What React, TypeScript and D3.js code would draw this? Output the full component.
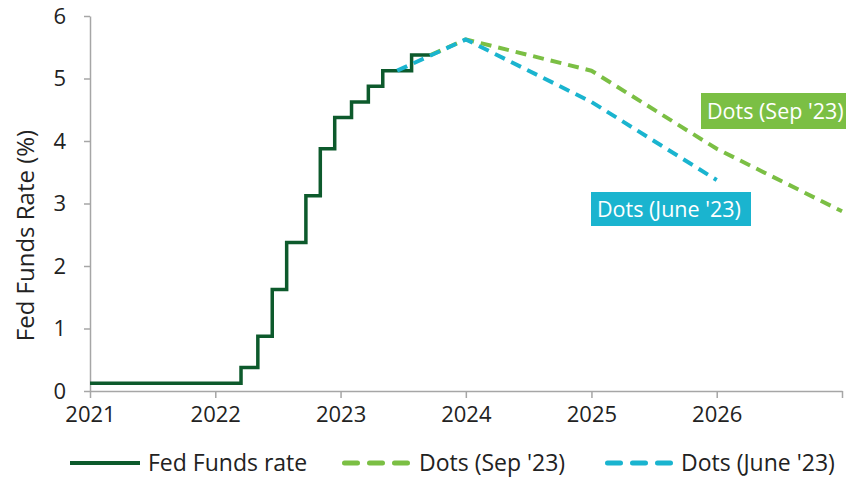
import React, { useEffect, useRef } from "react";
import * as d3 from "d3";

// Fed funds target range midpoint, step changes at FOMC decisions
const fedDates = [
  "2021-01-01", "2022-03-17", "2022-05-05", "2022-06-16", "2022-07-28",
  "2022-09-22", "2022-11-03", "2022-12-15", "2023-02-02", "2023-03-23",
  "2023-05-04", "2023-07-27", "2023-09-20",
];
const fedRates = [
  0.125, 0.375, 0.875, 1.625, 2.375, 3.125, 3.875, 4.375, 4.625, 4.875,
  5.125, 5.375, 5.375,
];

// SEP median dots (year-end values plotted at start of next year)
const sepDates = ["2023-09-20", "2024-01-01", "2025-01-01", "2026-01-01", "2027-01-01"];
const sepDots = [5.375, 5.625, 5.125, 3.875, 2.875];

const juneDates = ["2023-06-15", "2024-01-01", "2025-01-01", "2026-01-01"];
const juneDots = [5.125, 5.625, 4.625, 3.375];

const yearTicks = ["2021", "2022", "2023", "2024", "2025", "2026"];
const rateTicks = [0, 1, 2, 3, 4, 5, 6];

const W = 846;
const H = 479;
const FONT = "'Open Sans', sans-serif";
const DARK = "#0d5a2c";
const GREEN = "#7bbf44";
const CYAN = "#1ab4cf";
const AXIS = "#a6a6a6";

const App = () => {
  const svgRef = useRef<SVGSVGElement>(null);

  useEffect(() => {
    const svg = d3.select(svgRef.current);
    svg.selectAll("*").remove();

    const parse = d3.timeParse("%Y-%m-%d");
    const x = d3
      .scaleTime()
      .domain([parse("2021-01-01")!, parse("2027-01-01")!])
      .range([90, 842]);
    const y = d3.scaleLinear().domain([0, 6]).range([391, 16]);

    const toPts = (dates: string[], vals: number[]) =>
      dates.map((d, i) => ({ d: parse(d)!, v: vals[i] }));

    // axes
    svg
      .append("g")
      .attr("transform", `translate(0,${y(0)})`)
      .call(
        d3
          .axisBottom(x)
          .tickValues(yearTicks.map((t) => parse(`${t}-01-01`)!).concat([parse("2027-01-01")!]))
          .tickFormat((d) => {
            const yr = d3.timeFormat("%Y")(d as Date);
            return yearTicks.includes(yr) ? yr : "";
          })
          .tickSize(7)
          .tickSizeOuter(0)
          .tickPadding(8)
      )
      .call((g) => g.select(".domain").attr("stroke", AXIS).attr("stroke-width", 1.5))
      .call((g) => g.selectAll(".tick line").attr("stroke", AXIS).attr("stroke-width", 1.5))
      .call((g) =>
        g
          .selectAll(".tick text")
          .attr("fill", "#222")
          .style("font-family", FONT)
          .style("font-size", "22px")
      );

    svg
      .append("g")
      .attr("transform", `translate(${x.range()[0]},0)`)
      .call(d3.axisLeft(y).tickValues(rateTicks).tickFormat(d3.format("d")).tickSize(6).tickSizeOuter(0).tickPadding(18))
      .call((g) => g.select(".domain").attr("stroke", AXIS).attr("stroke-width", 1.5))
      .call((g) => g.selectAll(".tick line").attr("stroke", AXIS).attr("stroke-width", 1.5))
      .call((g) =>
        g
          .selectAll(".tick text")
          .attr("fill", "#222")
          .style("font-family", FONT)
          .style("font-size", "22px")
      );

    svg
      .append("text")
      .attr("transform", `translate(34,${(y(0) + y(6)) / 2 + 32}) rotate(-90)`)
      .attr("text-anchor", "middle")
      .attr("fill", "#222")
      .style("font-family", FONT)
      .style("font-size", "24px")
      .text("Fed Funds Rate (%)");

    // lines
    const step = d3
      .line<{ d: Date; v: number }>()
      .x((p) => x(p.d))
      .y((p) => y(p.v))
      .curve(d3.curveStepAfter);
    const straight = d3
      .line<{ d: Date; v: number }>()
      .x((p) => x(p.d))
      .y((p) => y(p.v));

    svg
      .append("path")
      .datum(toPts(fedDates, fedRates))
      .attr("fill", "none")
      .attr("stroke", DARK)
      .attr("stroke-width", 3.5)
      .attr("d", step);

    svg
      .append("path")
      .datum(toPts(sepDates, sepDots))
      .attr("fill", "none")
      .attr("stroke", GREEN)
      .attr("stroke-width", 4)
      .attr("stroke-linejoin", "round")
      .attr("stroke-dasharray", "11 7")
      .attr("d", straight);

    svg
      .append("path")
      .datum(toPts(juneDates, juneDots))
      .attr("fill", "none")
      .attr("stroke", CYAN)
      .attr("stroke-width", 4)
      .attr("stroke-linejoin", "round")
      .attr("stroke-dasharray", "11 7")
      .attr("d", straight);

    // callout labels
    const callouts = [
      { text: "Dots (Sep '23)", color: GREEN, x: 701, y: 93, w: 150, h: 36 },
      { text: "Dots (June '23)", color: CYAN, x: 591, y: 192, w: 160, h: 34 },
    ];
    callouts.forEach((c) => {
      svg.append("rect").attr("x", c.x).attr("y", c.y).attr("width", c.w).attr("height", c.h).attr("fill", c.color);
      svg
        .append("text")
        .attr("x", c.x + 6)
        .attr("y", c.y + c.h / 2)
        .attr("dy", "0.35em")
        .attr("fill", "#fff")
        .style("font-family", FONT)
        .style("font-size", "21.5px")
        .text(c.text);
    });

    // legend
    const legend = [
      { label: "Fed Funds rate", color: DARK, dash: null, x0: 70, x1: 140, tx: 148 },
      { label: "Dots (Sep '23)", color: GREEN, dash: "13 12", x0: 344.5, x1: 407.5, tx: 419 },
      { label: "Dots (June '23)", color: CYAN, dash: "13 12", x0: 607.5, x1: 670.5, tx: 681 },
    ];
    const ly = 463;
    legend.forEach((l) => {
      const line = svg
        .append("line")
        .attr("x1", l.x0)
        .attr("x2", l.x1)
        .attr("y1", ly)
        .attr("y2", ly)
        .attr("stroke", l.color)
        .attr("stroke-width", l.dash ? 5 : 4);
      if (l.dash) line.attr("stroke-dasharray", l.dash).attr("stroke-linecap", "round");
      svg
        .append("text")
        .attr("x", l.tx)
        .attr("y", ly)
        .attr("dy", "0.35em")
        .attr("fill", "#222")
        .style("font-family", FONT)
        .style("font-size", "23px")
        .text(l.label);
    });
  }, []);

  return (
    <svg
      ref={svgRef}
      width={W}
      height={H}
      style={{ position: "absolute", left: 0, top: 0, background: "#fff" }}
    />
  );
};

export default App;
